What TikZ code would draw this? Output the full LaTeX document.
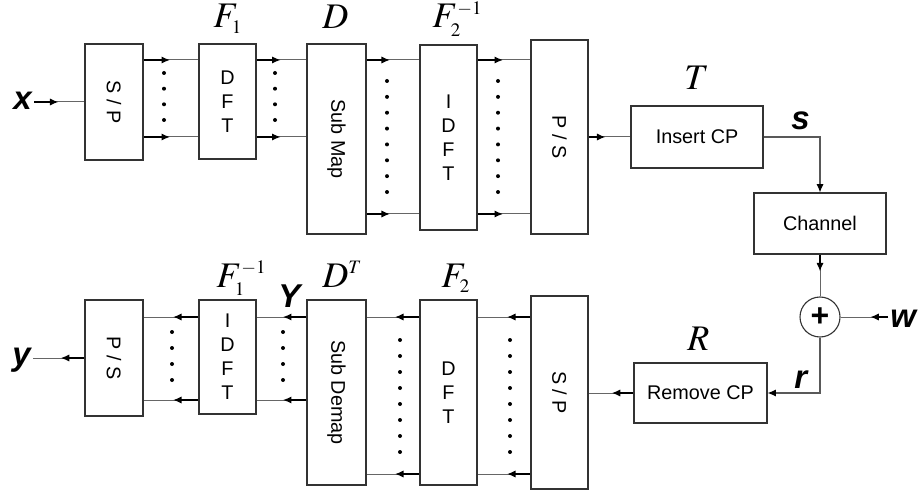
\documentclass[tikz,border=0pt]{standalone}
\usepackage{mathptmx}
\usepackage[no-math]{fontspec}
\setmainfont{Liberation Sans}
\usepackage{graphicx}
\DeclareMathSizes{18}{18}{9.5}{7}
\usetikzlibrary{arrows.meta}
\tikzset{
  blk/.style={draw=black!80, line width=0.55pt, inner sep=0pt, align=center,
    font=\fontsize{9.9}{12}\selectfont},
  gln/.style={draw=black!60, line width=0.5pt},
  bln/.style={draw=black, line width=0.65pt, -{Latex[length=4.2pt,width=3.6pt]}},
  eln/.style={draw=black!65, line width=0.55pt, -{Latex[length=4.2pt,width=3.6pt,fill=black,color=black]}},
  mlbl/.style={inner sep=0pt, anchor=base west, font=\fontsize{18}{20}\selectfont},
  vlbl/.style={inner sep=1pt, anchor=base west, font=\fontsize{16.5}{18}\selectfont\bfseries\itshape},
  dotm/.style={fill=black},
}
\newcommand\cnx[3][0.48]{%
  \draw[gln] (#2) -- (#3) coordinate[pos=#1] (tmpm);
  \draw[bln] (#2) -- (tmpm);}
\begin{document}
\begin{tikzpicture}[x=0.5pt,y=-0.5pt]
\useasboundingbox (0,0) rectangle (919,496);
% row coordinates
\coordinate (ya) at (0,60);
\coordinate (yb) at (0,137);
\coordinate (yc) at (0,214);
\coordinate (yd) at (0,317);
\coordinate (ye) at (0,400);
\coordinate (yf) at (0,474);
% top row blocks
\node[blk, minimum width=29pt, minimum height=58pt] (sp1) at (114,102) {\rotatebox{-90}{S / P}};
\node[blk, minimum width=28.5pt, minimum height=57.5pt] (dft1) at (227.5,101.5) {D\\F\\T};
\node[blk, minimum width=29.5pt, minimum height=95pt] (smap) at (336.5,139) {\rotatebox{-90}{Sub Map}};
\node[blk, minimum width=28.5pt, minimum height=92.5pt] (idft1) at (448.5,137.5) {I\\D\\F\\T};
\node[blk, minimum width=28.5pt, minimum height=97pt] (ps1) at (559.5,137) {\rotatebox{-90}{P / S}};
\node[blk, minimum width=66pt, minimum height=31pt] (ins) at (697,137) {Insert CP};
\node[blk, minimum width=66pt, minimum height=30.5pt] (chan) at (820,223.5) {Channel};
\node[draw=black!80, line width=0.55pt, circle, minimum size=20pt, inner sep=0pt,
  font=\fontsize{16}{16}\selectfont\bfseries] (plus) at (820,317) {+};
\node[blk, minimum width=66.5pt, minimum height=30pt] (rem) at (700.5,393) {Remove CP};
% bottom row blocks
\node[blk, minimum width=28.5pt, minimum height=96.5pt] (sp2) at (559.5,392.5) {\rotatebox{-90}{S / P}};
\node[blk, minimum width=28.5pt, minimum height=92.5pt] (dft2) at (448.5,392.5) {D\\F\\T};
\node[blk, minimum width=29.5pt, minimum height=92.5pt] (sdem) at (336.5,392.5) {\rotatebox{-90}{Sub Demap}};
\node[blk, minimum width=28.5pt, minimum height=57pt] (idft2) at (227.5,357) {I\\D\\F\\T};
\node[blk, minimum width=29pt, minimum height=58pt] (ps2) at (114,358) {\rotatebox{-90}{P / S}};
% math labels
\node[mlbl] (lF1) at (213,28) {$F_1$};
\node[mlbl] (lD) at (322,29) {$D$};
\node[mlbl] (lF2i) at (432,28) {$F_2^{-1}$};
\node[mlbl] (lT) at (684,90) {$T$};
\node[mlbl] (lF1i) at (216,287) {$F_1^{-1}$};
\node[mlbl] (lDT) at (322,287) {$D^T$};
\node[mlbl] (lF2) at (441,287) {$F_2$};
\node[mlbl] (lR) at (687,350) {$R$};
% vector labels
\node[vlbl] (lx) at (11,110) {x};
\node[vlbl] (ls) at (789,130) {s};
\node[vlbl] (lY) at (276,307) {Y};
\node[vlbl] (ly) at (10,365) {y};
\node[vlbl] (lw) at (888,327) {w};
\node[vlbl] (lr) at (792,388) {r};
% top connectors
\cnx{lx.east |- sp1.west}{sp1.west}
\cnx{sp1.east |- ya}{dft1.west |- ya}
\cnx{sp1.east |- yb}{dft1.west |- yb}
\cnx{dft1.east |- ya}{smap.west |- ya}
\cnx{dft1.east |- yb}{smap.west |- yb}
\cnx[0.44]{smap.east |- ya}{idft1.west |- ya}
\cnx[0.44]{smap.east |- yc}{idft1.west |- yc}
\cnx{idft1.east |- ya}{ps1.west |- ya}
\cnx{idft1.east |- yc}{ps1.west |- yc}
\cnx[0.4]{ps1.east |- ins.west}{ins.west}
\draw[eln] (ins.east) -| (chan.north);
\cnx[0.4]{chan.south}{plus.north}
\cnx[0.37]{lw.west |- plus.east}{plus.east}
\draw[eln] (plus.south) |- (rem.east);
\cnx{rem.west}{sp2.east |- rem.west}
% bottom connectors
\cnx[0.44]{sp2.west |- yd}{dft2.east |- yd}
\cnx[0.44]{sp2.west |- yf}{dft2.east |- yf}
\cnx[0.46]{dft2.west |- yd}{sdem.east |- yd}
\cnx[0.46]{dft2.west |- yf}{sdem.east |- yf}
\cnx[0.47]{sdem.west |- yd}{idft2.east |- yd}
\cnx[0.47]{sdem.west |- ye}{idft2.east |- ye}
\cnx[0.46]{idft2.west |- yd}{ps2.east |- yd}
\cnx[0.46]{idft2.west |- ye}{ps2.east |- ye}
\cnx[0.46]{ps2.west}{ly.east |- ps2.west}
% dots
\foreach \yy in {73,88.7,104.3,120} {
  \fill[dotm] (164,\yy) circle (1pt);
  \fill[dotm] (275,\yy) circle (1pt);
}
\foreach \k in {0,...,7} {
  \fill[dotm] (387,81+15.86*\k) circle (1pt);
  \fill[dotm] (498,81+15.86*\k) circle (1pt);
  \fill[dotm] (510,340+16*\k) circle (1pt);
  \fill[dotm] (400,340+16*\k) circle (1pt);
}
\foreach \k in {0,...,3} {
  \fill[dotm] (283,332+16*\k) circle (1pt);
  \fill[dotm] (172,332+16*\k) circle (1pt);
}
\end{tikzpicture}
\end{document}
